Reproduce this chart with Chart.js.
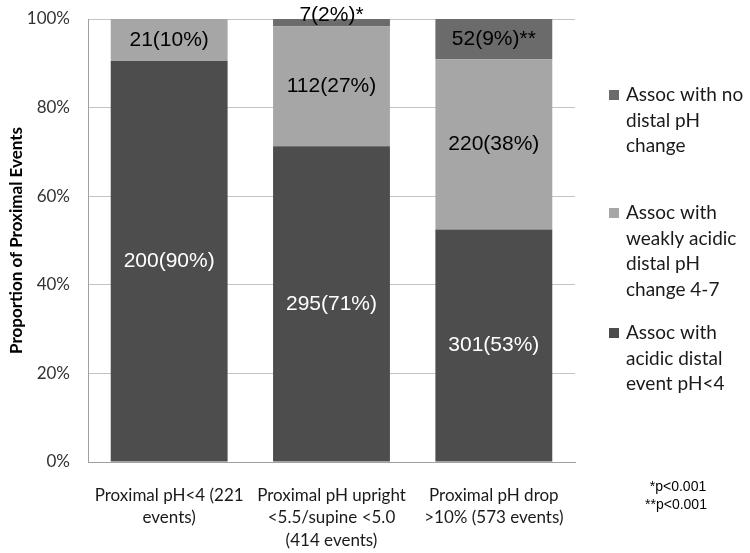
<!DOCTYPE html>
<html>
<head>
<meta charset="utf-8">
<script src="https://cdn.jsdelivr.net/npm/chart.js@4"></script>
<style>
  html, body { margin: 0; padding: 0; background: #fff; }
  #wrap { width: 750px; height: 553px; position: relative; }
</style>
</head>
<body>
<div id="wrap"><canvas id="c" width="750" height="553"></canvas></div>
<script>
// ---- data ----
const categories = [
  ["Proximal pH<4 (221", "events)"],
  ["Proximal pH upright", "<5.5/supine <5.0", "(414 events)"],
  ["Proximal pH drop", ">10% (573 events)"]
];
const acidicPct = [90.5, 71.3, 52.5];
const weakPct   = [9.5, 27.0, 38.4];
const nonePct   = [0, 1.7, 9.1];
const acidicLabels = ["200(90%)", "295(71%)", "301(53%)"];
const weakLabels   = ["21(10%)", "112(27%)", "220(38%)"];
const noneLabels   = ["", "7(2%)*", "52(9%)**"];
const seriesNames = [
  ["Assoc with", "acidic distal", "event pH<4"],
  ["Assoc with", "weakly acidic", "distal pH", "change 4-7"],
  ["Assoc with no", "distal pH", "change"]
];
const yTicks = [0, 20, 40, 60, 80, 100];
const footnotes = ["*p<0.001", "**p<0.001"];

const colors = ["#4d4d4d", "#a6a6a6", "#6b6b6b"];
const labelColors = ["#ffffff", "#000000", "#000000"];
const labelSets = [acidicLabels, weakLabels, noneLabels];

const barLabelPlugin = {
  id: 'barLabels',
  afterDatasetsDraw(chart) {
    const ctx = chart.ctx;
    ctx.save();
    ctx.font = '21px "Liberation Sans", Arial, sans-serif';
    ctx.textAlign = 'center';
    ctx.textBaseline = 'middle';
    chart.data.datasets.forEach((ds, di) => {
      const meta = chart.getDatasetMeta(di);
      meta.data.forEach((el, i) => {
        const txt = labelSets[di][i];
        if (!txt) return;
        let y = (el.y + el.base) / 2;
        if (di === 2 && i === 1) y -= 8;
        ctx.fillStyle = labelColors[di];
        ctx.fillText(txt, el.x, y);
      });
    });
    ctx.restore();
  }
};

const legendPlugin = {
  id: 'sideLegend',
  afterDraw(chart) {
    const ctx = chart.ctx;
    ctx.save();
    ctx.font = '19px Lato, "Open Sans", sans-serif';
    ctx.textBaseline = 'middle';
    ctx.textAlign = 'left';
    const firstY = [333, 213, 95];
    const lh = 25.5;
    for (let s = 2; s >= 0; s--) {
      const y0 = firstY[s];
      ctx.fillStyle = colors[s];
      ctx.fillRect(609, y0 - 5, 10, 10);
      ctx.fillStyle = '#1a1a1a';
      seriesNames[s].forEach((line, k) => ctx.fillText(line, 626, y0 + k * lh));
    }
    ctx.font = '14px "Liberation Sans", Arial, sans-serif';
    ctx.textAlign = 'center';
    ctx.fillStyle = '#000';
    ctx.fillText(footnotes[0], 678, 487);
    ctx.fillText(footnotes[1], 676, 505);
    ctx.restore();
  }
};

new Chart(document.getElementById('c'), {
  type: 'bar',
  data: {
    labels: categories,
    datasets: [
      { label: seriesNames[0].join(' '), data: acidicPct, backgroundColor: colors[0] },
      { label: seriesNames[1].join(' '), data: weakPct, backgroundColor: colors[1] },
      { label: seriesNames[2].join(' '), data: nonePct, backgroundColor: colors[2] }
    ]
  },
  options: {
    responsive: false,
    animation: false,
    layout: { padding: { top: 19, right: 175, left: 0, bottom: 0 } },
    plugins: { legend: { display: false }, tooltip: { enabled: false } },
    datasets: { bar: { categoryPercentage: 1.0, barPercentage: 0.72 } },
    scales: {
      x: {
        stacked: true,
        grid: { display: false, drawTicks: false },
        border: { color: '#a0a0a0' },
        ticks: {
          color: '#1a1a1a',
          font: { family: 'Lato, "Open Sans", sans-serif', size: 17, lineHeight: 1.32 },
          padding: 22,
          maxRotation: 0, autoSkip: false
        },
        afterFit(s) { s.height = 91; s.paddingLeft = 0; s.paddingRight = 0; }
      },
      y: {
        stacked: true,
        min: 0, max: 100,
        afterBuildTicks(s) { s.ticks = yTicks.map(v => ({ value: v })); },
        grid: { color: '#c4c4c4', drawTicks: false },
        border: { color: '#a0a0a0' },
        ticks: {
          color: '#333',
          font: { family: 'Lato, "Open Sans", sans-serif', size: 17 },
          padding: 18,
          callback: v => v + '%'
        },
        title: {
          display: true,
          text: 'Proportion of Proximal Events',
          color: '#000',
          font: { family: 'Lato, "Open Sans", sans-serif', size: 17, weight: 'bold' },
          padding: { top: 6, bottom: 0 }
        },
        afterFit(s) { s.width = 88; s.paddingTop = 0; s.paddingBottom = 0; }
      }
    }
  },
  plugins: [barLabelPlugin, legendPlugin]
});
</script>
</body>
</html>
